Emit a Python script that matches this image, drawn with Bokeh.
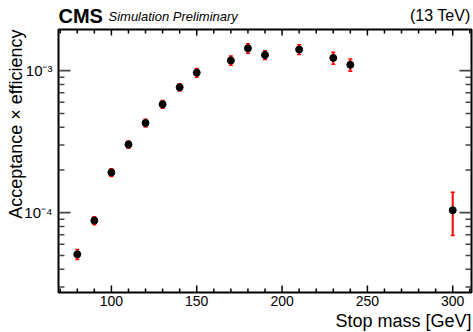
import math
from bokeh.plotting import figure
from bokeh.layouts import column
from bokeh.models import (ColumnDataSource, Range1d, Whisker, TeeHead, Label, Title,
                          FixedTicker)
from bokeh.embed import file_html
from bokeh.resources import INLINE

# ---- data ----
stop_mass = [80, 90, 100, 110, 120, 130, 140, 150, 170, 180, 190, 210, 230, 240, 300]
acc_eff = [5.09e-5, 8.79e-5, 1.92e-4, 3.02e-4, 4.28e-4, 5.80e-4, 7.63e-4, 9.68e-4,
           1.18e-3, 1.436e-3, 1.29e-3, 1.41e-3, 1.23e-3, 1.10e-3, 1.04e-4]
acc_err = [0.41e-5, 0.58e-5, 0.12e-4, 0.18e-4, 0.26e-4, 0.37e-4, 0.45e-4, 0.70e-4,
           0.09e-3, 0.11e-3, 0.09e-3, 0.11e-3, 0.12e-3, 0.11e-3, 0.35e-4]

x_major_values = [100, 150, 200, 250, 300]
x_minor_values = [v for v in range(70, 320, 10) if v % 50 != 0]
y_tick_values = [1e-4, 1e-3]
y_tick_labels = ["10\u207b\u2074", "10\u207b\u00b3"]
y_minor_values = [m * 10.0 ** e for e in (-5, -4, -3) for m in range(2, 10)]

x_title = "Stop mass [GeV]"
y_title = "Acceptance \u00d7 efficiency"
exp_label = "CMS"
sub_label = "Simulation Preliminary"
energy_label = "(13 TeV)"

FONT = "Liberation Sans"
W = 473
HEADER_H = 27
MAIN_H = 305
X_LO, X_HI = 69, 311
Y_LO, Y_HI = 2.74e-5, 1.95e-3
B_LEFT, B_RIGHT, B_TOP, B_BOTTOM = 58, 2, 2, 40

src = ColumnDataSource(dict(
    x=stop_mass, y=acc_eff,
    upper=[v + e for v, e in zip(acc_eff, acc_err)],
    lower=[v - e for v, e in zip(acc_eff, acc_err)],
))

# ---------- header strip (frame aligned with the main frame) ----------
h = figure(width=W, height=HEADER_H, output_backend="svg", toolbar_location=None,
           x_range=Range1d(0, 1), y_range=Range1d(0, 1),
           x_axis_location=None, y_axis_location=None,
           min_border=0)
h.outline_line_color = None
h.grid.visible = False
h.background_fill_color = "white"
h.border_fill_color = "white"
h.add_layout(Label(x=0, y=11.3, x_units="screen", y_units="screen", text=exp_label,
                   text_font=FONT, text_font_style="bold", text_font_size="20px",
                   text_align="left", text_baseline="alphabetic", text_color="black"))
h.add_layout(Label(x=50, y=11.3, x_units="screen", y_units="screen", text=sub_label,
                   text_font=FONT, text_font_style="italic", text_font_size="13px",
                   text_align="left", text_baseline="alphabetic", text_color="black"))
h.add_layout(Label(x=412, y=12.3, x_units="screen", y_units="screen", text=energy_label,
                   text_font=FONT, text_font_size="16px",
                   text_align="right", text_baseline="alphabetic", text_color="black"))

# ---------- main plot ----------
p = figure(width=W, height=MAIN_H, output_backend="svg", toolbar_location=None,
           y_axis_type="log",
           x_range=Range1d(X_LO, X_HI), y_range=Range1d(Y_LO, Y_HI),
           min_border_left=B_LEFT, min_border_right=B_RIGHT,
           min_border_top=B_TOP, min_border_bottom=B_BOTTOM)
p.background_fill_color = None
p.border_fill_color = "white"
p.grid.visible = False
p.outline_line_color = "black"
p.outline_line_width = 2

# ---- inward tick marks on all four frame edges, placed at the axis tick values ----
frame_w = W - B_LEFT - B_RIGHT
frame_h = MAIN_H - B_TOP - B_BOTTOM
px_per_unit = frame_w / (X_HI - X_LO)
px_per_decade = frame_h / math.log10(Y_HI / Y_LO)


def ystep(px):
    return 10 ** (px / px_per_decade)


for vals, ln_b, ln_t in ((x_major_values, 7, 6), (x_minor_values, 4, 4)):
    n = len(vals)
    p.segment(x0=vals, y0=[Y_LO] * n, x1=vals, y1=[Y_LO * ystep(ln_b)] * n,
              line_color="black", line_width=1.5)
    p.segment(x0=vals, y0=[Y_HI] * n, x1=vals, y1=[Y_HI / ystep(ln_t)] * n,
              line_color="black", line_width=1.5)

for vals, ln, lw in ((y_tick_values, 12, 1.8), (y_minor_values, 6, 1.5)):
    n = len(vals)
    p.segment(x0=[X_LO] * n, y0=vals, x1=[X_LO + ln / px_per_unit] * n, y1=vals,
              line_color="#444444", line_width=lw)
    p.segment(x0=[X_HI] * n, y0=vals, x1=[X_HI - ln / px_per_unit] * n, y1=vals,
              line_color="#444444", line_width=lw)

# ---- data: error bars and markers ----
wh = Whisker(source=src, base="x", upper="upper", lower="lower",
             line_color="#ff0000", line_width=2,
             upper_head=TeeHead(size=4, line_color="#ff0000", line_width=1.5),
             lower_head=TeeHead(size=4, line_color="#ff0000", line_width=1.5))
p.add_layout(wh)
p.scatter("x", "y", source=src, size=7, color="black")

# ---- axes (labels only; the tick marks are drawn above) ----
xa = p.xaxis[0]
xa.ticker = FixedTicker(ticks=x_major_values, minor_ticks=x_minor_values)
xa.axis_line_color = None
xa.major_tick_in = 0
xa.major_tick_out = 0
xa.minor_tick_in = 0
xa.minor_tick_out = 0
xa.major_label_text_font = FONT
xa.major_label_text_font_size = "14px"
xa.major_label_text_color = "black"
xa.major_label_standoff = 3

ya = p.yaxis[0]
ya.ticker = FixedTicker(ticks=y_tick_values, minor_ticks=y_minor_values)
ya.axis_line_color = None
ya.major_tick_in = 0
ya.major_tick_out = 0
ya.minor_tick_in = 0
ya.minor_tick_out = 0
ya.major_label_overrides = dict(zip(y_tick_values, y_tick_labels))
ya.major_label_text_font = FONT
ya.major_label_text_font_size = "15px"
ya.major_label_text_color = "black"
ya.major_label_standoff = 6

# axis titles as side-panel titles, aligned to the far end like ROOT
p.add_layout(Title(text=y_title, align="right", vertical_align="bottom", standoff=-8,
                   text_font=FONT, text_font_size="18px", text_font_style="normal",
                   text_color="black"), "left")
p.add_layout(Title(text=x_title, align="right", vertical_align="bottom", standoff=0,
                   text_font=FONT, text_font_size="18px", text_font_style="normal",
                   text_color="black"), "below")

layout = column(h, p, spacing=0)
open("out.html", "w").write(file_html(layout, INLINE))
